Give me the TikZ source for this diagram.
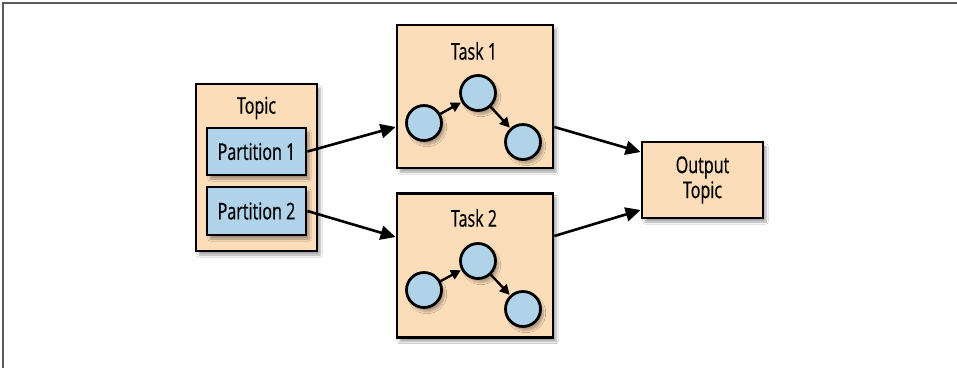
\documentclass[tikz,border=0pt]{standalone}
\usepackage{fontspec}
\setmainfont[FakeStretch=0.7,FakeBold=0.6]{Open Sans}
\usetikzlibrary{arrows.meta,shadows.blur,positioning,calc}
\definecolor{peach}{RGB}{252,221,186}
\definecolor{lblue}{RGB}{176,211,233}
\definecolor{framegray}{RGB}{90,90,90}
\tikzset{
  boxstyle/.style={draw=black, line width=2.8pt, fill=peach, rectangle, inner sep=0pt,
    blur shadow={shadow xshift=3pt, shadow yshift=-4pt, shadow blur steps=6, shadow opacity=35}},
  partbox/.style={draw=black, line width=2.8pt, fill=lblue, rectangle, inner sep=0pt,
    blur shadow={shadow xshift=3pt, shadow yshift=-4pt, shadow blur steps=6, shadow opacity=35}},
  dot/.style={draw=black, line width=2.8pt, fill=lblue, circle, minimum size=35pt, inner sep=0pt,
    blur shadow={shadow xshift=3pt, shadow yshift=-4pt, shadow blur steps=6, shadow opacity=30}},
  lbl/.style={font=\fontsize{23pt}{25pt}\selectfont, inner sep=0pt, align=center},
  bigarrow/.style={line width=2.6pt, -{Triangle[length=15pt,width=14pt]}},
  smallarrow/.style={line width=2.4pt, -{Triangle[length=10pt,width=10pt]}, shorten >=0.5pt}
}
\begin{document}
\begin{tikzpicture}[x=1pt,y=-1pt]
\useasboundingbox (0,0) rectangle (957,368);
\fill[white] (0,0) rectangle (957,368);
\draw[framegray, line width=1.6pt] (957,3) -- (3,3) -- (3,368);

% Topic
\node[boxstyle, minimum width=121pt, minimum height=167pt] (topic) at (256.5,167.5) {};
\node[lbl] (topiclbl) at (256.5,108) {Topic};
\node[partbox, minimum width=99pt, minimum height=47pt, lbl] (p1) at (256.5,151.5) {Partition 1};
\node[partbox, minimum width=99pt, minimum height=48pt, lbl] (p2) at (256.5,211) {Partition 2};

% Tasks
\node[boxstyle, minimum width=156pt, minimum height=143pt] (t1) at (475,96.5) {};
\node[lbl] (t1lbl) at (474,51) {Task 1};
\node[dot] (a1) at (424,123) {};
\node[dot] (b1) at (478,93) {};
\node[dot] (c1) at (523,142) {};
\draw[smallarrow] (a1) -- (b1);
\draw[smallarrow] (b1) -- (c1);

\node[boxstyle, minimum width=156pt, minimum height=144pt] (t2) at (475,265.5) {};
\node[lbl] (t2lbl) at (474,218) {Task 2};
\node[dot] (a2) at (424,290) {};
\node[dot] (b2) at (478,261) {};
\node[dot] (c2) at (523,309) {};
\draw[smallarrow] (a2) -- (b2);
\draw[smallarrow] (b2) -- (c2);

% Output
\node[boxstyle, minimum width=121pt, minimum height=76pt] (out) at (702.5,180) {};
\node[lbl] (outlbl) at (702.5,180) {Output\\Topic};

% Connectors
\draw[bigarrow] (p1.east) -- ([yshift=-30.5pt]t1.west);
\draw[bigarrow] (p2.east) -- ([yshift=28.5pt]t2.west);
\draw[bigarrow] ([yshift=-30.5pt]t1.east) -- ([yshift=28pt]out.west);
\draw[bigarrow] ([yshift=29.5pt]t2.east) -- ([yshift=-30pt]out.west);
\end{tikzpicture}
\end{document}
